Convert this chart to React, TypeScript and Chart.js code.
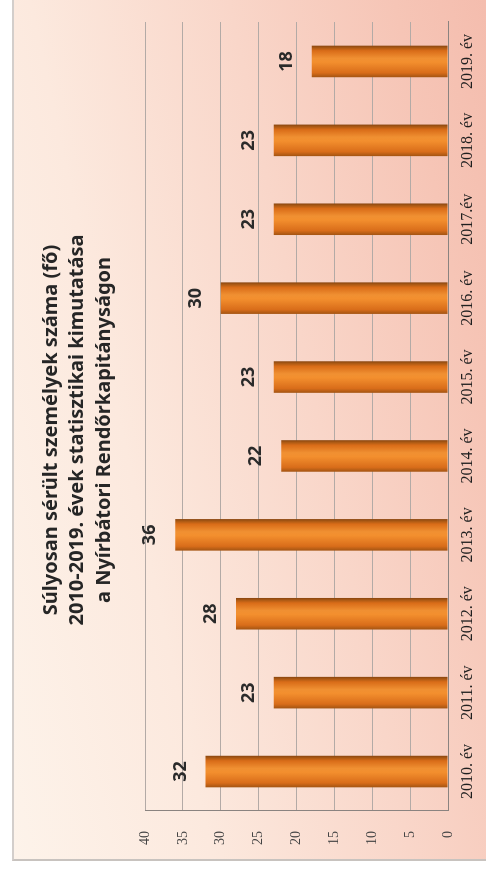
import React, { useEffect, useRef } from "react";
import { Chart, registerables } from "chart.js";

Chart.register(...registerables);

// ---- data ----
const categories = [
  "2010. év",
  "2011. év",
  "2012. év",
  "2013. év",
  "2014. év",
  "2015. év",
  "2016. év",
  "2017.év",
  "2018. év",
  "2019. év",
];
const injuredCounts = [32, 23, 28, 36, 22, 23, 30, 23, 23, 18];
const valueTicks = [0, 5, 10, 15, 20, 25, 30, 35, 40];
const titleLines = [
  "Súlyosan sérült személyek száma (fő)",
  "2010-2019. évek statisztikai kimutatása",
  "a Nyírbátori Rendőrkapitányságon",
];

// ---- layout (original, un-rotated chart) ----
const W = 862;
const H = 476;
const BAR_FRACTION = 0.4;

const barFill = (c: any) => {
  const chart = c.chart;
  const xs = chart.scales && chart.scales.x;
  if (!chart.chartArea || !xs || typeof c.dataIndex !== "number") return "#e07818";
  const cx = xs.getPixelForValue(c.dataIndex);
  const half = ((xs.right - xs.left) / categories.length) * BAR_FRACTION / 2;
  const g = chart.ctx.createLinearGradient(cx - half, 0, cx + half, 0);
  g.addColorStop(0, "#a35412");
  g.addColorStop(0.14, "#d96d1a");
  g.addColorStop(0.48, "#f38f2e");
  g.addColorStop(0.6, "#f09032");
  g.addColorStop(0.84, "#d96c18");
  g.addColorStop(0.93, "#ad5a14");
  g.addColorStop(1, "#88450f");
  return g;
};

const valueLabels = {
  id: "valueLabels",
  afterDatasetsDraw(chart: any) {
    const meta = chart.getDatasetMeta(0);
    const data = chart.data.datasets[0].data;
    const ctx = chart.ctx;
    ctx.save();
    ctx.font = 'bold 18px "Noto Sans"';
    ctx.fillStyle = "#2a2a2a";
    ctx.textAlign = "center";
    ctx.textBaseline = "middle";
    meta.data.forEach((bar: any, i: number) => {
      ctx.fillText(String(data[i]), bar.x, bar.y - 25);
    });
    ctx.restore();
  },
};

const TITLE_CENTER_X = 430;
const TITLE_FIRST_Y = 39;
const TITLE_LINE_GAP = 26.5;

const chartTitle = {
  id: "chartTitle",
  afterDraw(chart: any) {
    const ctx = chart.ctx;
    ctx.save();
    ctx.font = 'bold 20px "Noto Sans"';
    ctx.fillStyle = "#262626";
    ctx.textAlign = "center";
    ctx.textBaseline = "middle";
    titleLines.forEach((line, i) => {
      ctx.fillText(line, TITLE_CENTER_X, TITLE_FIRST_Y + i * TITLE_LINE_GAP);
    });
    ctx.restore();
  },
};

export default function App() {
  const ref = useRef<HTMLCanvasElement>(null);

  useEffect(() => {
    const canvas = ref.current;
    if (!canvas) return;
    const chart = new Chart(canvas, {
      type: "bar",
      data: {
        labels: categories,
        datasets: [
          {
            data: injuredCounts,
            backgroundColor: barFill,
            borderWidth: 0,
            categoryPercentage: 1,
            barPercentage: BAR_FRACTION,
          },
        ],
      },
      options: {
        responsive: false,
        maintainAspectRatio: false,
        animation: false,
        events: [],
        layout: { padding: { left: 0, right: 24, top: 133, bottom: 0 } },
        plugins: {
          legend: { display: false },
          tooltip: { enabled: false },
          title: { display: false },
        },
        scales: {
          x: {
            grid: { display: false, drawTicks: false },
            border: { display: true, color: "#8a8380", width: 1 },
            ticks: {
              font: { family: '"Liberation Serif"', size: 16 },
              color: "#1f1f1f",
              padding: 10,
              maxRotation: 0,
              autoSkip: false,
            },
            afterFit: (s: any) => {
              s.height = 40;
            },
          },
          y: {
            min: valueTicks[0],
            max: valueTicks[valueTicks.length - 1],
            ticks: {
              stepSize: valueTicks[1] - valueTicks[0],
              font: { family: '"Liberation Serif"', size: 14 },
              color: "#444444",
              padding: 20,
            },
            grid: { color: "#b3aaa6", lineWidth: 1, drawTicks: false },
            border: { display: true, color: "#8a8380", width: 1 },
            afterFit: (s: any) => {
              s.width = 49;
            },
          },
        },
      },
      plugins: [valueLabels, chartTitle],
    });
    return () => chart.destroy();
  }, []);

  return (
    <div
      style={{
        position: "absolute",
        left: 0,
        top: 0,
        width: 486,
        height: 876,
        overflow: "hidden",
        background: "#ffffff",
      }}
    >
      <div
        style={{
          position: "absolute",
          left: 12,
          top: -10,
          width: 480,
          height: 871,
          boxSizing: "border-box",
          borderLeft: "2px solid #d3cecb",
          borderBottom: "2px solid #c8c3bf",
          background:
            "linear-gradient(78deg, #fdf3ea 0%, #fce9de 30%, #f9d6c9 60%, #f6c5b6 85%, #f4bcad 100%)",
        }}
      />
      <div
        style={{
          position: "absolute",
          left: 0,
          top: 0,
          width: W,
          height: H,
          transformOrigin: "0 0",
          transform: "translate(12px, 860px) rotate(-90deg)",
        }}
      >
        <canvas ref={ref} width={W} height={H} style={{ display: "block", width: W, height: H }} />
      </div>
    </div>
  );
}
